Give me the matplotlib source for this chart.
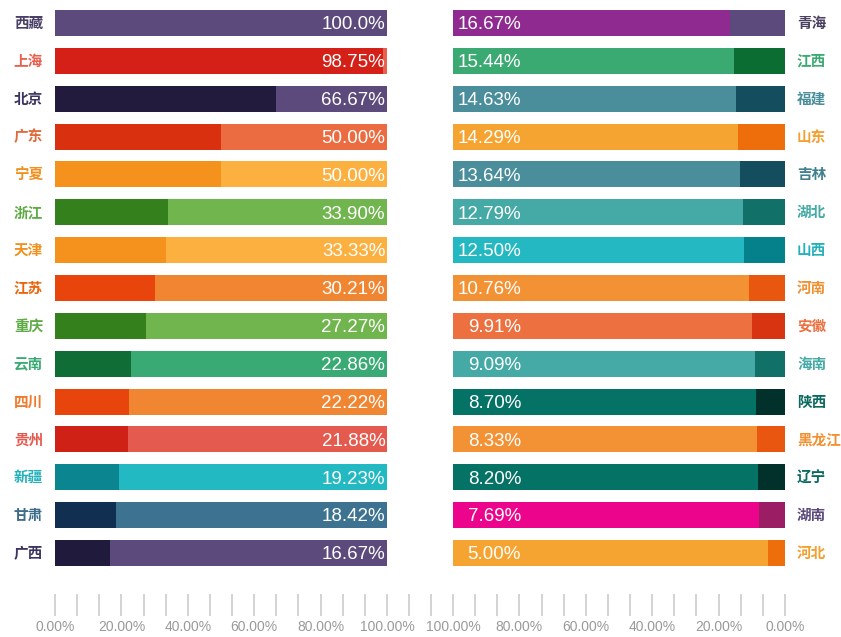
import matplotlib
matplotlib.use("Agg")
from matplotlib import pyplot as plt

plt.rcParams['font.family'] = ['Noto Sans CJK SC', 'DejaVu Sans']

# left panel (top to bottom)
left_names = ['西藏', '上海', '北京', '广东', '宁夏', '浙江', '天津', '江苏',
              '重庆', '云南', '四川', '贵州', '新疆', '甘肃', '广西']
left_values = [100.0, 98.75, 66.67, 50.00, 50.00, 33.90, 33.33, 30.21,
               27.27, 22.86, 22.22, 21.88, 19.23, 18.42, 16.67]
left_dark = ['#5b4a7b', '#d42016', '#221b3e', '#d93010', '#f5921e', '#34801c', '#f5921e', '#e8450c',
             '#34801c', '#106d35', '#e8450c', '#cf2116', '#0b8590', '#112f51', '#201a3d']
left_light = ['#5b4a7b', '#e8604e', '#5b4a7b', '#ea6c40', '#fbb040', '#70b54e', '#fbb040', '#f08532',
              '#70b54e', '#3aaa74', '#f08532', '#e55a4e', '#22b9c3', '#3d7390', '#5b4a7b']
left_label_col = ['#4a3f66', '#e8604e', '#3d3560', '#e06a3a', '#f0901e', '#5eab45', '#f0901e', '#e8650c',
                  '#5eab45', '#3aaa74', '#f07a2a', '#e55a4e', '#22b0bb', '#3d6d8a', '#3d3560']

# right panel (top to bottom)
right_names = ['青海', '江西', '福建', '山东', '吉林', '湖北', '山西', '河南',
               '安徽', '海南', '陕西', '黑龙江', '辽宁', '湖南', '河北']
right_values = [16.67, 15.44, 14.63, 14.29, 13.64, 12.79, 12.50, 10.76,
                9.91, 9.09, 8.70, 8.33, 8.20, 7.69, 5.00]
right_dark = ['#5b4a7b', '#0c6d33', '#134d5e', '#ef6e0c', '#134d5e', '#117169', '#05818b', '#e8560f',
              '#d93411', '#117169', '#02312b', '#e8560f', '#02312b', '#9b1d64', '#ef6e0c']
right_light = ['#8f2a90', '#3aaa72', '#4a8e9c', '#f6a431', '#4a8e9c', '#45a9a6', '#23b8c2', '#f29234',
               '#ec7040', '#45a9a6', '#057266', '#f29234', '#057266', '#ec058c', '#f6a431']
right_label_col = ['#4a4060', '#3aaa72', '#4a8e9c', '#f3a030', '#3f7f8e', '#45a9a6', '#23b0bb', '#f09030',
                   '#ec7040', '#45a9a6', '#0a6a60', '#f09030', '#0a6a60', '#5b4a7b', '#f3a030']

tick_vals = [k * 100 / 15 for k in range(17)]
tick_labels = ['%.2f%%' % v if k % 3 == 0 else '' for k, v in enumerate(tick_vals)]

W, H = 841, 637
fig = plt.figure(figsize=(W / 100, H / 100), dpi=100)

row0, pitch = 23, 37.85
top_px = row0 - 0.5 * pitch
bot_px = 594
ybottom = (bot_px - row0) / pitch
bar_h = 26 / pitch
span = 332 * 1.08


def make_ax(x0):
    ax = fig.add_axes([x0 / W, 1 - bot_px / H, span / W, (bot_px - top_px) / H])
    ax.set_facecolor('none')
    for s in ax.spines.values():
        s.set_visible(False)
    ax.set_yticks([])
    ax.set_xticks(tick_vals)
    ax.set_xticklabels(tick_labels,
                       family=['Liberation Sans Narrow', 'DejaVu Sans Condensed', 'Liberation Sans'])
    ax.tick_params(axis='x', direction='out', length=16, width=1.1, color='#c8c8c8',
                   labelsize=10, labelcolor='#9a9a9a', pad=3)
    return ax


def pct(v):
    return '%.1f%%' % v if v >= 100 else '%.2f%%' % v


# left side
axl = make_ax(55)
axl.set_xlim(0, 108)
axl.set_ylim(ybottom, -0.5)
for i, v in enumerate(left_values):
    axl.barh(i, v, height=bar_h, color=left_dark[i])
    axl.barh(i, 100 - v, left=v, height=bar_h, color=left_light[i])
    axl.text(99.5, i + 0.05, pct(v), ha='right', va='center', color='white',
             fontsize=13.5, family='Liberation Sans')
    axl.text(-3.6, i, left_names[i], ha='right', va='center', color=left_label_col[i],
             fontsize=10.5, fontweight='bold')

# right side (reversed axis)
axr = make_ax(785 - span)
axr.set_xlim(108, 0)
axr.set_ylim(ybottom, -0.5)
for i, v in enumerate(right_values):
    axr.barh(i, v, height=bar_h, color=right_dark[i])
    axr.barh(i, 100 - v, left=v, height=bar_h, color=right_light[i])
    axr.text(79.5, i + 0.05, pct(v), ha='right', va='center', color='white',
             fontsize=13.5, family='Liberation Sans')
    axr.text(-3.6, i, right_names[i], ha='left', va='center', color=right_label_col[i],
             fontsize=10.5, fontweight='bold')

fig.savefig('out.png', dpi=100)
